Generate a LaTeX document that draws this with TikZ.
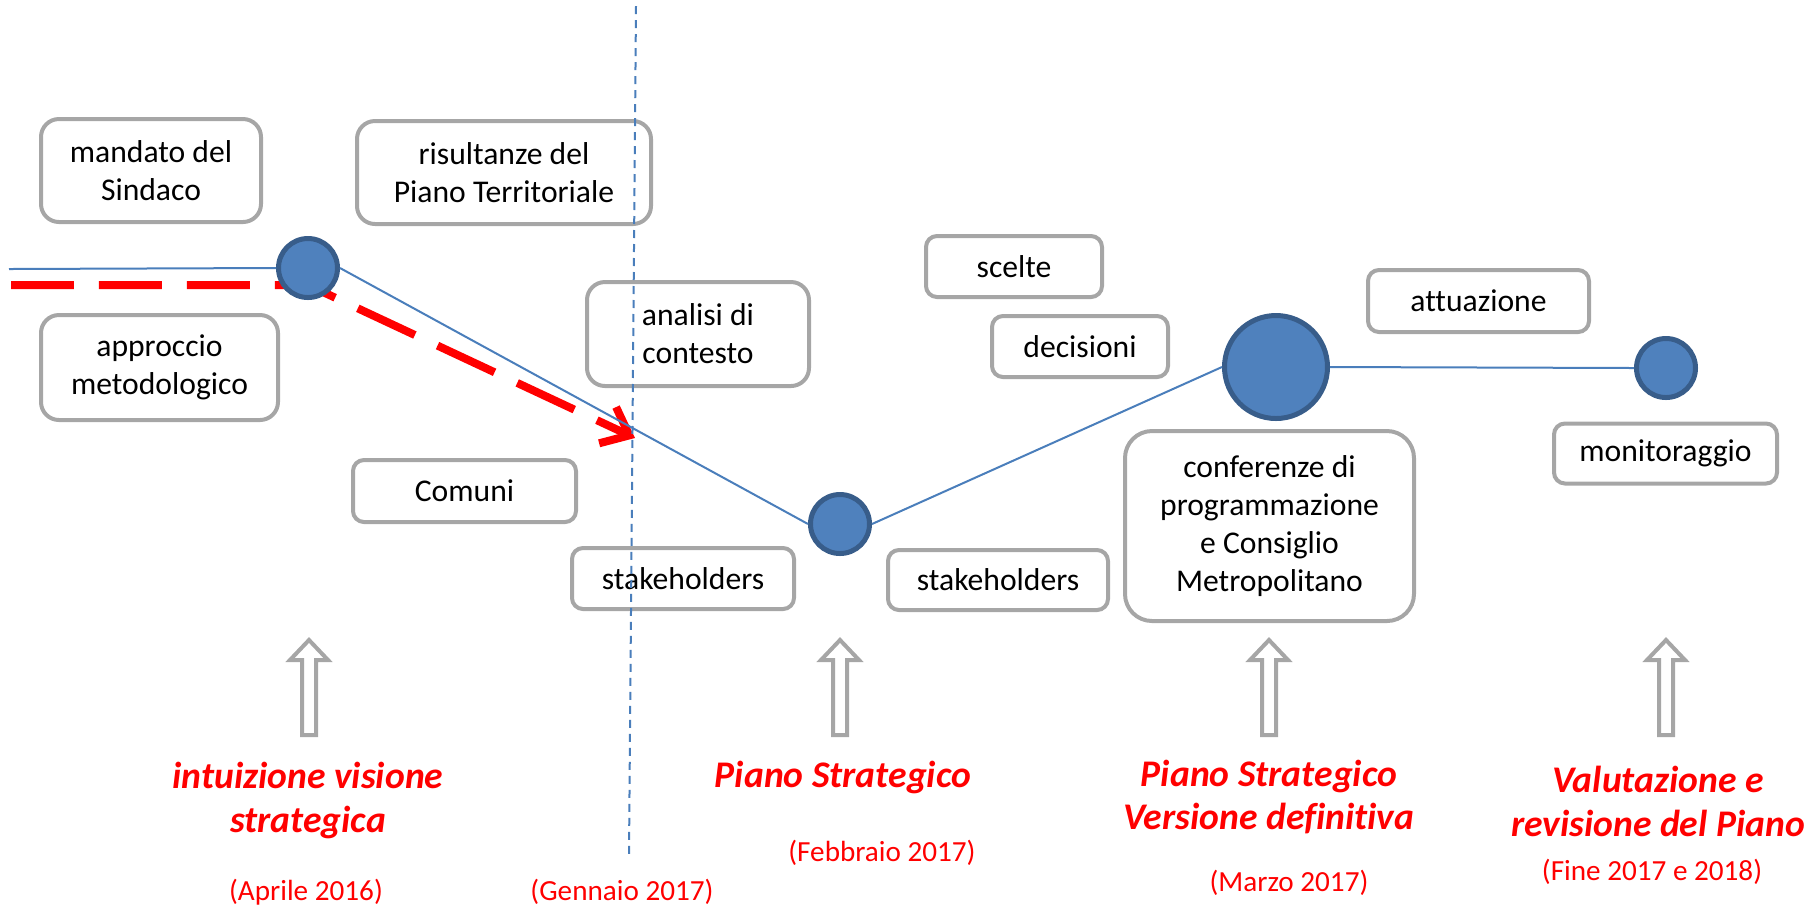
\documentclass[tikz,border=0pt]{standalone}
\usepackage{fontspec}
\setmainfont{Carlito}[Ligatures={NoCommon,NoContextual},Contextuals=NoAlternate]
\usetikzlibrary{arrows.meta}
\definecolor{boxgray}{HTML}{A6A6A6}
\definecolor{linkblue}{HTML}{4A7EBB}
\definecolor{stagefill}{HTML}{4F81BD}
\definecolor{stageline}{HTML}{385D8A}
\definecolor{markred}{HTML}{FF0000}

\begin{document}
\begin{tikzpicture}[x=0.1mm,y=-0.1mm]
\tikzset{box/.style = {draw=boxgray, line width=0.4mm, rounded corners=1.1mm, align=center, inner sep=0pt, font=\fontsize{9}{10.8}\selectfont}}
\tikzset{stage/.style = {circle, draw=stageline, fill=stagefill, line width=0.5mm, inner sep=0pt, minimum size=5.9mm}}
\tikzset{link/.style = {draw=linkblue, line width=0.2mm}}
\tikzset{title/.style = {text=markred, font=\fontsize{10.7}{12.5}\selectfont\bfseries\itshape, align=center}}
\tikzset{date/.style = {text=markred, font=\fontsize{8.3}{10}\selectfont}}
\tikzset{hollowup/.style = {draw=boxgray, line width=0.4mm, fill=white}}
\useasboundingbox (0,0) rectangle (1819,910);
% boxes
\node[box, rounded corners=1.8mm, minimum width=22mm, minimum height=10.3mm] (mandato) at (151,170.5) {mandato del\\Sindaco};
\node[box, rounded corners=1.8mm, minimum width=29.4mm, minimum height=10.3mm] (risultanze) at (504,172.5) {risultanze del\\Piano Territoriale};
\node[box, rounded corners=1.8mm, minimum width=23.7mm, minimum height=10.5mm] (approccio) at (159.5,367.5) {approccio\\metodologico};
\node[box, rounded corners=1.8mm, minimum width=22.2mm, minimum height=10.4mm] (analisi) at (698,334) {analisi di\\contesto};
\node[box, minimum width=22.3mm, minimum height=6.2mm] (comuni) at (464.5,491) {Comuni};
\node[box, minimum width=22.2mm, minimum height=6.1mm] (stake1) at (683,578.5) {stakeholders};
\node[box, minimum width=22mm, minimum height=6mm] (stake2) at (998,580) {stakeholders};
\node[box, minimum width=17.6mm, minimum height=6.1mm] (scelte) at (1014,266.5) {scelte};
\node[box, minimum width=17.6mm, minimum height=6.1mm] (decisioni) at (1080,346.5) {decisioni};
\node[box, rounded corners=2.7mm, minimum width=28.9mm, minimum height=19mm] (conferenze) at (1269.5,526) {conferenze di\\programmazione\\e Consiglio\\Metropolitano};
\node[box, minimum width=22.1mm, minimum height=6.2mm] (attuazione) at (1478.5,301) {attuazione};
\node[box, minimum width=22.3mm, minimum height=6mm] (monitor) at (1665.5,453.5) {monitoraggio};
% red path
\coordinate (rstart) at (11,285);
\coordinate (rbend) at (308,285);
\coordinate (rtip) at (635,438);
\draw[markred, line width=0.8mm, dash pattern=on 6.3mm off 2.5mm, -{Straight Barb[length=2.4mm,width=4mm]}] (rstart) -- (rbend) -- (rtip);
% timeline
\coordinate (start) at (9,269);
\node[stage] (s1) at (308,268) {};
\node[stage] (s2) at (840,524) {};
\node[stage, minimum size=10.3mm] (s3) at (1276,367) {};
\node[stage] (s4) at (1666,368) {};
\draw[link] (start) -- (s1.west);
\draw[link] (s1.east) -- (s2.west);
\draw[link] (s2.east) -- (s3.west);
\draw[link] (s3.east) -- (s4.west);
\coordinate (ctop) at (636,6);
\coordinate (cbot) at (629,854);
\draw[linkblue, line width=0.2mm, dash pattern=on 0.8mm off 0.6mm] (ctop) -- (cbot);
% up arrows
\foreach \ax in {309,840,1269,1666}
  \draw[hollowup] (\ax,640) -- (\ax+19,660) -- (\ax+7,660) -- (\ax+7,735) -- (\ax-7,735) -- (\ax-7,660) -- (\ax-19,660) -- cycle;
% labels
\node[title] (t1) at (308,800) {intuizione visione\\strategica};
\node[title, anchor=base] (t2) at (843,787) {Piano Strategico};
\node[title] (t3) at (1269,797) {Piano Strategico\\Versione definitiva};
\node[title] (t4) at (1658,801) {Valutazione e\\revisione del Piano};
\node[date] (d1) at (306,892) {(Aprile 2016)};
\node[date] (d2) at (622,892) {(Gennaio 2017)};
\node[date] (d3) at (882,853) {(Febbraio 2017)};
\node[date] (d4) at (1289,883) {(Marzo 2017)};
\node[date] (d5) at (1652,872) {(Fine 2017 e 2018)};
\end{tikzpicture}
\end{document}
